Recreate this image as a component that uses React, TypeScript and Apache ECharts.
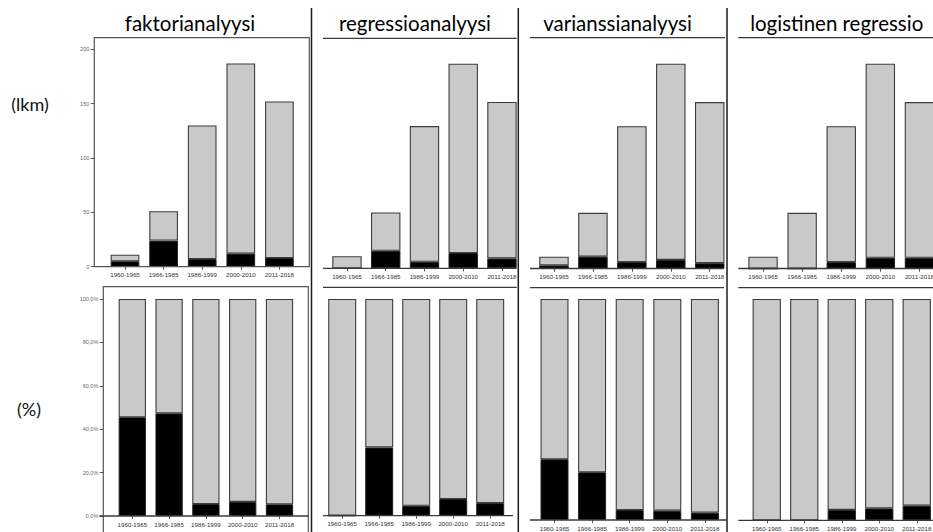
import React, { useEffect, useRef } from "react";
import * as echarts from "echarts";

// ---- data ----
const categories = ["1960-1965", "1966-1985", "1986-1999", "2000-2010", "2011-2018"];
const methodTitles = ["faktorianalyysi", "regressioanalyysi", "varianssianalyysi", "logistinen regressio"];

// all articles per period (height of the whole bar, upper row)
const totalCounts = [11, 51, 130, 187, 152];
// articles using the method (black part, upper row)
const factorCounts = [5, 24, 7, 12, 8];
const regressionCounts = [0, 16, 6, 14, 9];
const anovaCounts = [3, 11, 6, 8, 5];
const logisticCounts = [0, 0, 6, 10, 10];

// share of articles using the method (black part, lower row), %
const factorPct = [45.5, 47.3, 5.5, 6.5, 5.4];
const regressionPct = [0, 31.5, 4.6, 7.7, 5.8];
const anovaPct = [27.5, 21.6, 4.5, 4.2, 3.3];
const logisticPct = [0, 0, 4.7, 5.4, 6.6];

const countAxis = { max: 200, interval: 50 };
const pctAxis = { max: 100, interval: 20 };

const methodCounts = [factorCounts, regressionCounts, anovaCounts, logisticCounts];
const methodPct = [factorPct, regressionPct, anovaPct, logisticPct];

// ---- layout (pixels) ----
const topLayout = [
  { left: 105.7, width: 193, top: 49.3, height: 217.4, bw: 28.7 },
  { left: 327.6, width: 193.75, top: 49.5, height: 218.8, bw: 29.4 },
  { left: 534.5, width: 194.7, top: 49.5, height: 219.2, bw: 29.5 },
  { left: 743.5, width: 195.5, top: 49.5, height: 219.2, bw: 29.4 },
];
const bottomLayout = [
  { left: 113.9, width: 184, top: 299, height: 217, bw: 27.3 },
  { left: 323.7, width: 185, top: 299, height: 216.7, bw: 28 },
  { left: 535.7, width: 188, top: 299, height: 221, bw: 28 },
  { left: 748, width: 187.5, top: 299, height: 221.3, bw: 28.3 },
];
const titleCenters = [190, 415, 617.5, 836.7];

const GRAY = "#c9c9c9";
const EDGE = "#3c3c3c";
const LINE = "#3a3a3a";

function buildOption() {
  const grid: any[] = [];
  const xAxis: any[] = [];
  const yAxis: any[] = [];
  const series: any[] = [];

  const addPanel = (lay: any, black: number[], rest: number[], isPct: boolean, showY: boolean, yOffset: number) => {
    const gi = grid.length;
    grid.push({ left: lay.left, top: lay.top, width: lay.width, height: lay.height, outerBoundsMode: "none", containLabel: false });
    xAxis.push({
      type: "category",
      gridIndex: gi,
      data: categories,
      axisLine: { show: false },
      axisTick: { show: true, alignWithLabel: true, length: 3, lineStyle: { color: "#555", width: 1 } },
      axisLabel: { interval: 0, fontSize: 6.2, color: "#333", margin: 5, fontFamily: "Liberation Sans" },
      splitLine: { show: false },
    });
    const ax = isPct ? pctAxis : countAxis;
    yAxis.push({
      type: "value",
      gridIndex: gi,
      min: 0,
      max: ax.max,
      interval: ax.interval,
      show: showY,
      offset: yOffset,
      axisLine: { show: false },
      axisTick: { show: true, length: 3.5, lineStyle: { color: "#555" } },
      axisLabel: {
        fontSize: 5.5,
        color: "#666",
        margin: 5,
        fontFamily: "Liberation Sans",
        formatter: isPct ? (v: number) => v.toFixed(1).replace(".", ",") + "%" : (v: number) => String(v),
      },
      splitLine: { show: false },
    });
    series.push({
      type: "bar",
      xAxisIndex: gi,
      yAxisIndex: gi,
      stack: "s" + gi,
      barWidth: lay.bw,
      data: black,
      itemStyle: { color: "#000", borderColor: "#222", borderWidth: 1 },
      silent: true,
    });
    series.push({
      type: "bar",
      xAxisIndex: gi,
      yAxisIndex: gi,
      stack: "s" + gi,
      barWidth: lay.bw,
      data: rest,
      itemStyle: { color: GRAY, borderColor: EDGE, borderWidth: 1.1 },
      silent: true,
    });
  };

  for (let i = 0; i < 4; i++) {
    const black = methodCounts[i];
    const rest = totalCounts.map((t, k) => t - black[k]);
    addPanel(topLayout[i], black, rest, false, i === 0, 11.4);
    const pct = methodPct[i];
    const restPct = pct.map((p) => 100 - p);
    addPanel(bottomLayout[i], pct, restPct, true, i === 0, 10.6);
  }

  const line = (x1: number, y1: number, x2: number, y2: number, w = 1.3, c = LINE) => ({
    type: "line",
    z: 100,
    silent: true,
    shape: { x1, y1, x2, y2 },
    style: { stroke: c, lineWidth: w },
  });

  const graphic: any[] = [];
  methodTitles.forEach((t, i) => {
    graphic.push({
      type: "text",
      z: 100,
      x: titleCenters[i],
      y: 23,
      style: { text: t, fontSize: 20.5, fontFamily: "Lato", fill: "#000", align: "center", verticalAlign: "middle" },
    });
  });
  graphic.push({
    type: "text",
    z: 100,
    x: 30,
    y: 104,
    style: { text: "(lkm)", fontSize: 18, fontFamily: "Lato", fill: "#111", align: "center", verticalAlign: "middle" },
  });
  graphic.push({
    type: "text",
    z: 100,
    x: 29,
    y: 409,
    style: { text: "(%)", fontSize: 18, fontFamily: "Lato", fill: "#111", align: "center", verticalAlign: "middle" },
  });
  // panel 1 frames
  graphic.push({
    type: "rect",
    z: 100,
    shape: { x: 94.3, y: 37.7, width: 215, height: 229 },
    style: { fill: "none", stroke: "#555", lineWidth: 1.2 },
  });
  graphic.push({
    type: "rect",
    z: 100,
    shape: { x: 103.3, y: 286.7, width: 205, height: 260 },
    style: { fill: "none", stroke: "#555", lineWidth: 1.2 },
  });
  graphic.push(line(99.3, 516, 308.3, 516));
  // dividers
  [311.5, 518.3, 727].forEach((x) => graphic.push(line(x, 8, x, 532, 1.5, "#1a1a1a")));
  // title underlines and lower-row top lines
  graphic.push(line(323, 38.3, 516.7, 38.3));
  graphic.push(line(530, 37.7, 725, 37.7));
  graphic.push(line(738.3, 37.7, 933, 37.7));
  graphic.push(line(323, 287.3, 516.7, 287.3));
  graphic.push(line(530, 287.7, 724, 287.7));
  graphic.push(line(738.3, 287.7, 933, 287.7));
  // baselines
  graphic.push(line(323, 268.3, 516.7, 268.3));
  graphic.push(line(530, 268.5, 724, 268.5));
  graphic.push(line(738.3, 268.5, 933, 268.5));
  graphic.push(line(323, 515.7, 513, 515.7));
  graphic.push(line(530, 520, 726.7, 520));
  graphic.push(line(738.3, 520.3, 933, 520.3));

  return {
    animation: false,
    backgroundColor: "#fff",
    grid,
    xAxis,
    yAxis,
    series,
    graphic,
  };
}

export default function App() {
  const ref = useRef<HTMLDivElement>(null);
  useEffect(() => {
    if (!ref.current) return;
    const chart = echarts.init(ref.current, null, { renderer: "svg", width: 933, height: 532 });
    chart.setOption(buildOption() as any);
    return () => chart.dispose();
  }, []);
  return (
    <div
      ref={ref}
      style={{ position: "fixed", left: 0, top: 0, width: 933, height: 532, background: "#fff" }}
    />
  );
}
